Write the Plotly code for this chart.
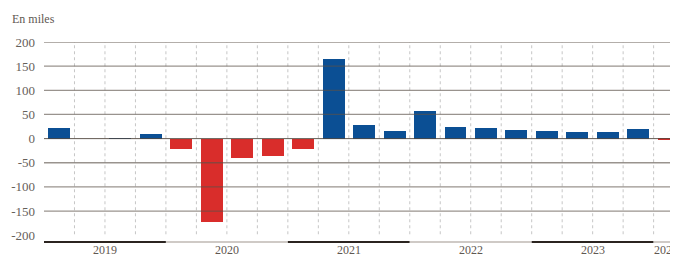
import plotly.graph_objects as go

quarters = ["2019 T1", "2019 T2", "2019 T3", "2019 T4",
            "2020 T1", "2020 T2", "2020 T3", "2020 T4",
            "2021 T1", "2021 T2", "2021 T3", "2021 T4",
            "2022 T1", "2022 T2", "2022 T3", "2022 T4",
            "2023 T1", "2023 T2", "2023 T3", "2023 T4",
            "2024 T1"]
values = [22, 0, 1, 10,
          -22, -172, -40, -36,
          -22, 164, 29, 16,
          57, 24, 22, 17,
          15, 13, 13, 20,
          -2]
years = ["2019", "2020", "2021", "2022", "2023", "2024"]
y_ticks = [200, 150, 100, 50, 0, -50, -100, -150, -200]

BLUE = "#0b4f94"
RED = "#d92d2b"
FONT = "Liberation Serif"

x = list(range(len(quarters)))
colors = [BLUE if v >= 0 else RED for v in values]

fig = go.Figure()
fig.add_trace(go.Bar(
    x=x, y=values, marker=dict(color=colors, line=dict(width=0)),
    width=0.72, hovertext=quarters, hoverinfo="text+y",
))

shapes = []
# vertical dashed separators between quarters
for i in range(len(quarters) - 1):
    shapes.append(dict(type="line", xref="x", yref="y", x0=i + 0.5, x1=i + 0.5,
                       y0=-198, y1=200, layer="below",
                       line=dict(color="#c6c6c6", width=1, dash="3px,3px")))
# horizontal gridlines above bars
for t in y_ticks[:-1]:
    shapes.append(dict(type="line", xref="paper", yref="y", x0=0, x1=1, y0=t, y1=t,
                       layer="above",
                       line=dict(color="rgba(90,80,72,0.62)" if t != 0 else "rgba(80,70,62,0.9)",
                                 width=1.3 if t != 0 else 1)))
# year bands on bottom axis
for k, yr in enumerate(years):
    start = k * 4 - 0.5
    end = min(start + 4, len(quarters))
    shapes.append(dict(type="line", xref="x", yref="paper", x0=start, x1=end, y0=0, y1=0,
                       layer="above",
                       line=dict(color="#2b2420" if k % 2 == 0 else "#cfcac6", width=2.2)))

annotations = []
for k, yr in enumerate(years):
    start = k * 4 - 0.5
    end = min(start + 4, len(quarters) - 0.5)
    cx = (start + end) / 2 if k < len(years) - 1 else len(quarters) - 1 - 0.1
    annotations.append(dict(x=cx, y=0, xref="x", yref="paper", text=yr, showarrow=False,
                            yanchor="top", yshift=1,
                            font=dict(family=FONT, size=12, color="#5f5852")))
annotations.append(dict(x=0, y=1, xref="paper", yref="paper", xanchor="left", yanchor="bottom",
                        xshift=-34, yshift=14, text="En miles", showarrow=False,
                        font=dict(family=FONT, size=12, color="#5f5852")))

# page body has an 8px margin, so the figure is sized/offset to compensate
fig.update_layout(
    width=670, height=249,
    margin=dict(l=36, r=0, t=34, b=15),
    paper_bgcolor="white", plot_bgcolor="white",
    showlegend=False, bargap=0,
    shapes=shapes, annotations=annotations,
    xaxis=dict(range=[-0.5, 20.3], showgrid=False, zeroline=False, showticklabels=False,
               showline=False, ticks="", fixedrange=True),
    yaxis=dict(range=[-214, 200], tickvals=y_ticks, ticktext=[str(t) for t in y_ticks],
               showgrid=False, zeroline=False, showline=False, ticks="",
               ticklabelstandoff=8,
               tickfont=dict(family=FONT, size=13, color="#66605a"), fixedrange=True),
    font=dict(family=FONT),
)

fig.write_html("out.html")
